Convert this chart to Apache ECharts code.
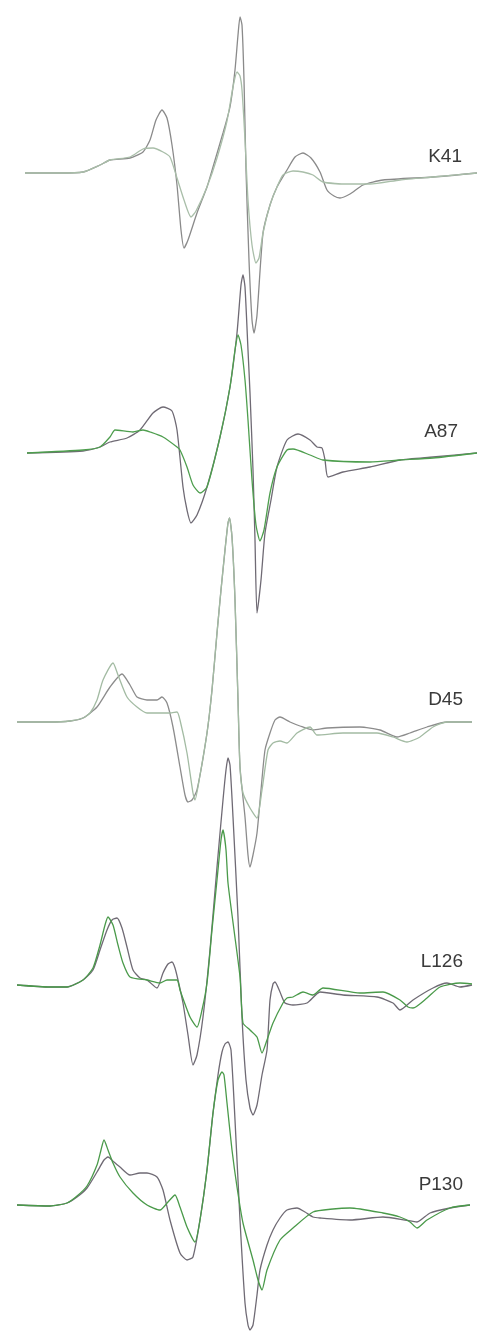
<!DOCTYPE html>
<html>
<head>
<meta charset="utf-8">
<script src="https://cdn.jsdelivr.net/npm/echarts@6/dist/echarts.min.js"></script>
<style>
  html, body { margin: 0; padding: 0; background: #fff; }
  #main { width: 477px; height: 1332px; }
</style>
</head>
<body>
<div id="main"></div>
<script>
// spectra: [field, signal] pairs, signal relative to each panel's own baseline
var labels = ['K41', 'A87', 'D45', 'L126', 'P130'];
var offsets = [1159, 879, 610, 347, 127];

var k41Dark = [[25,0],[60,0],[83,1],[100,8],[110,13],[130,15],[143,21],[150,33],[156,53],[162,63],[167,55],[172,28],[177,-12],[181,-57],[184,-75],[188,-67],[197,-40],[207,-14],[213,6],[223,40],[230,66],[235,103],[238,138],[240,156],[242,148],[244,93],[246,3],[249,-87],[252,-147],[254,-160],[257,-142],[263,-60],[270,-32],[277,-14],[287,3],[295,16],[303,20],[311,15],[320,1],[327,-17],[334,-23],[340,-25],[350,-21],[363,-12],[383,-7],[433,-4],[477,0]];
var k41Green = [[25,0],[60,0],[83,1],[100,8],[110,13],[130,16],[143,24],[153,25],[163,21],[170,16],[177,-5],[184,-27],[191,-44],[196,-38],[207,-14],[217,15],[227,52],[233,86],[237,101],[240,97],[242,83],[245,33],[248,-27],[252,-72],[256,-90],[259,-85],[263,-60],[270,-32],[277,-14],[283,-2],[293,2],[303,1],[313,-2],[323,-9],[347,-11],[370,-11],[400,-7],[433,-4],[477,0]];

var a87Dark = [[27,0],[83,2],[100,6],[110,11],[127,15],[140,23],[153,40],[163,46],[172,42],[177,23],[183,-34],[187,-57],[191,-70],[197,-62],[207,-34],[220,16],[230,66],[237,120],[241,168],[243,178],[245,166],[248,103],[250,60],[253,-17],[255,-87],[257,-160],[261,-127],[265,-80],[271,-47],[277,-14],[287,13],[298,19],[310,13],[317,6],[322,5],[325,-7],[328,-24],[343,-19],[370,-14],[400,-7],[433,-4],[477,0]];
var a87Green = [[27,0],[83,3],[100,6],[110,16],[115,23],[133,21],[143,23],[150,21],[163,16],[177,6],[180,3],[187,-14],[193,-32],[200,-40],[207,-34],[220,16],[230,66],[235,103],[238,118],[241,108],[245,73],[248,33],[252,-27],[256,-72],[260,-88],[264,-77],[270,-40],[277,-14],[287,3],[293,4],[310,-2],[323,-7],[370,-9],[400,-7],[433,-5],[477,0]];

var d45Dark = [[17,0],[50,0],[70,1],[83,4],[97,15],[110,35],[122,48],[130,37],[137,25],[147,22],[157,22],[162,25],[167,19],[173,-5],[180,-45],[185,-73],[188,-80],[192,-78],[197,-68],[207,-11],[212,32],[217,89],[221,132],[225,172],[228,199],[229.5,204],[232,185],[235,122],[238,22],[240,-45],[245,-95],[248,-133],[250,-145],[253,-133],[257,-111],[261,-68],[265,-28],[270,-11],[275,2],[280,5],[290,0],[300,-4],[313,-8],[327,-6],[360,-5],[380,-8],[397,-15],[410,-11],[427,-5],[447,0],[472,0]];
var d45Green = [[17,0],[50,0],[70,1],[83,4],[90,9],[97,22],[103,42],[113,59],[118,47],[127,25],[137,15],[147,9],[163,9],[170,9],[177,10],[180,2],[187,-31],[193,-71],[195,-78],[200,-53],[207,-11],[212,32],[217,89],[221,132],[225,172],[228,199],[229.5,204],[232,185],[235,122],[238,22],[240,-45],[243,-71],[250,-86],[257,-96],[262,-68],[268,-28],[273,-21],[280,-19],[287,-21],[297,-11],[310,-5],[317,-13],[343,-11],[377,-11],[393,-15],[407,-20],[420,-15],[433,-5],[447,0],[472,0]];

var l126Dark = [[17,0],[50,-2],[67,-2],[83,5],[93,15],[100,35],[107,55],[112,65],[117,67],[122,57],[127,38],[133,15],[140,7],[147,5],[157,-3],[163,12],[168,21],[172,23],[175,17],[178,5],[183,-18],[188,-50],[193,-80],[197,-70],[203,-32],[210,35],[217,118],[223,185],[226,215],[228,227],[230,220],[233,168],[238,68],[242,-32],[246,-95],[250,-123],[253,-130],[257,-120],[262,-90],[267,-65],[270,-15],[273,1],[275,3],[280,-7],[285,-18],[293,-20],[307,-18],[320,-7],[343,-10],[377,-12],[393,-18],[400,-25],[413,-15],[433,-3],[447,2],[460,-2],[472,0]];
var l126Green = [[17,0],[50,-2],[67,-2],[83,5],[93,17],[100,40],[105,60],[108,68],[113,60],[118,40],[123,22],[130,8],[147,5],[160,2],[167,5],[177,5],[180,-5],[190,-32],[197,-42],[202,-25],[207,2],[212,55],[217,105],[221,145],[223,155],[226,135],[228,102],[234,55],[240,8],[243,-38],[250,-45],[257,-52],[262,-68],[267,-55],[273,-38],[283,-18],[287,-13],[293,-12],[303,-7],[313,-10],[323,-3],[360,-8],[383,-7],[400,-15],[408,-22],[413,-23],[427,-13],[440,-2],[460,2],[472,1]];

var p130Dark = [[17,0],[50,-1],[67,2],[77,8],[87,17],[97,33],[104,45],[108,48],[114,43],[120,38],[130,30],[140,32],[147,32],[157,28],[163,15],[170,-15],[180,-48],[187,-55],[193,-52],[200,-15],[207,35],[213,92],[218,130],[222,153],[225,161],[228,163],[231,155],[235,85],[240,-15],[245,-98],[248,-120],[250,-125],[253,-120],[257,-90],[260,-65],[267,-40],[273,-25],[280,-13],[287,-5],[297,-3],[305,-7],[313,-12],[320,-13],[350,-15],[383,-12],[405,-15],[417,-17],[430,-8],[450,-3],[470,0]];
var p130Green = [[17,0],[50,-1],[67,2],[77,9],[87,19],[97,40],[101,55],[104,65],[108,55],[113,42],[120,28],[133,12],[147,0],[160,-5],[168,3],[175,10],[180,-2],[187,-22],[195,-37],[200,-15],[207,35],[213,92],[218,125],[222,133],[224,130],[227,102],[232,55],[237,18],[243,-18],[253,-55],[258,-75],[262,-85],[267,-65],[280,-35],[293,-23],[313,-7],[333,-4],[350,-3],[383,-8],[400,-12],[410,-17],[417,-23],[427,-15],[450,-3],[470,0]];

var darkSets = [k41Dark, a87Dark, d45Dark, l126Dark, p130Dark];
var greenSets = [k41Green, a87Green, d45Green, l126Green, p130Green];
var darkColors = ['#8a8a8a', '#6f6a74', '#8c8c8c', '#6f6a74', '#6f6a74'];
var greenColors = ['#a9bea9', '#4e9e4e', '#a3bba3', '#4a9a4a', '#4a9a4a'];
var labelPos = [[462, 157], [458, 432], [463, 700], [463, 962], [463, 1185]];

var shift = function (arr, off) {
    return arr.map(function (p) { return [p[0], p[1] + off]; });
};

var series = [];
for (var i = 0; i < labels.length; i++) {
    series.push({
        type: 'line', name: labels[i] + ' dark', data: shift(darkSets[i], offsets[i]),
        showSymbol: false, smooth: 0.2, silent: true,
        lineStyle: { color: darkColors[i], width: 1.3 }
    });
    series.push({
        type: 'line', name: labels[i] + ' green', data: shift(greenSets[i], offsets[i]),
        showSymbol: false, smooth: 0.2, silent: true,
        lineStyle: { color: greenColors[i], width: 1.3 }
    });
}

var graphics = labels.map(function (t, i) {
    return {
        type: 'text', x: labelPos[i][0], y: labelPos[i][1],
        style: {
            text: t, fill: '#3a3a3a', font: '19px "Liberation Sans", Arial, sans-serif',
            align: 'right', verticalAlign: 'middle'
        }
    };
});

var myChart = echarts.init(document.getElementById('main'));
var option = {
    animation: false,
    backgroundColor: '#ffffff',
    grid: { left: 0, right: 0, top: 0, bottom: 0 },
    xAxis: { type: 'value', min: 0, max: 477, show: false },
    yAxis: { type: 'value', min: 0, max: 1332, show: false },
    series: series,
    graphic: graphics
};
myChart.setOption(option);
</script>
</body>
</html>
